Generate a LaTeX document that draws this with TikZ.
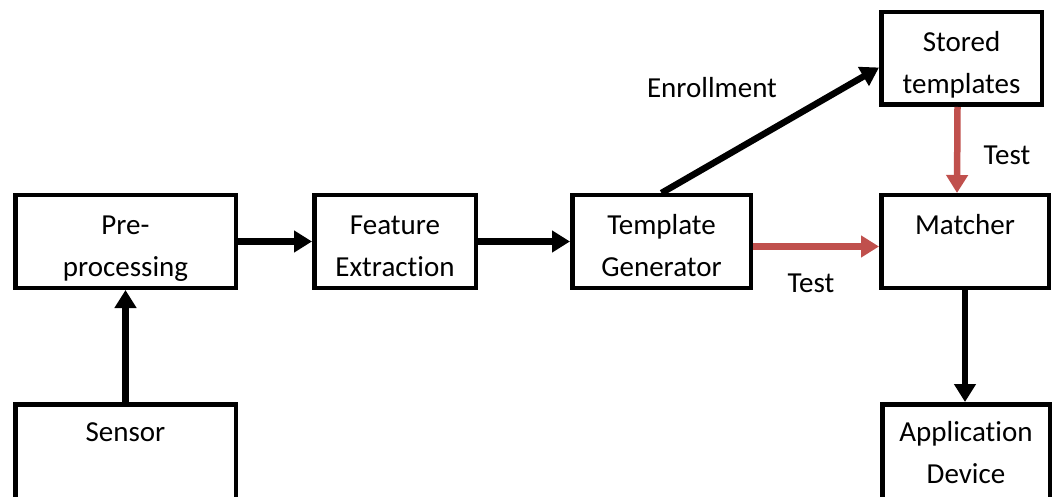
\documentclass[tikz,border=0pt]{standalone}
\usepackage{fontspec}
\setmainfont{Carlito}[Ligatures=NoCommon]
\usetikzlibrary{arrows.meta}
\definecolor{testred}{RGB}{192,80,77}
\tikzset{
  box/.style={draw, line width=4.5pt, anchor=north west, align=center, inner sep=0pt,
    minimum width=#1, minimum height=92.5pt, font=\fontsize{29}{42}\selectfont,
    text height=76pt, text depth=6pt},
  open/.style={minimum height=120pt, text depth=37pt},
  flow/.style={line width=6.5pt, -{Triangle[length=18pt,width=21pt]}},
  lbl/.style={font=\fontsize{29}{42}\selectfont}
}

\begin{document}
\begin{tikzpicture}[x=1pt,y=-1pt]
\useasboundingbox (0,0) rectangle (1052,497);
% blocks
\node[box=220.5pt] (pre) at (13,193) {Pre-\\processing};
\node[box=220.5pt,open] (sensor) at (13,402) {Sensor\\~};
\node[box=161.5pt] (feat) at (312,193) {Feature\\Extraction};
\node[box=178.5pt] (tgen) at (570,193) {Template\\Generator};
\node[box=160.5pt] (stored) at (879,10) {Stored\\templates};
\node[box=167.5pt] (match) at (879,193) {Matcher\\~};
\node[box=167.5pt,open] (app) at (880,402) {Application\\Device};
% labels
\node[lbl] (enroll) at (712,88) {Enrollment};
\node[lbl] (testv) at (1007,155) {Test};
\node[lbl] (testh) at (811,283) {Test};
% connections
\draw[flow] (sensor.north) -- (pre.south);
\draw[flow] (pre.east) -- (feat.west);
\draw[flow] (feat.east) -- (tgen.west);
\draw[flow] (tgen.north) -- ([yshift=-9pt]stored.west);
\draw[flow,testred] ([yshift=-5pt]tgen.east) -- ([yshift=-5pt]match.west);
\draw[flow,testred] ([xshift=-4pt]stored.south) -- ([xshift=-8pt]match.north);
\draw[flow] (match.south) -- ([xshift=-1pt]app.north);
\end{tikzpicture}
\end{document}
